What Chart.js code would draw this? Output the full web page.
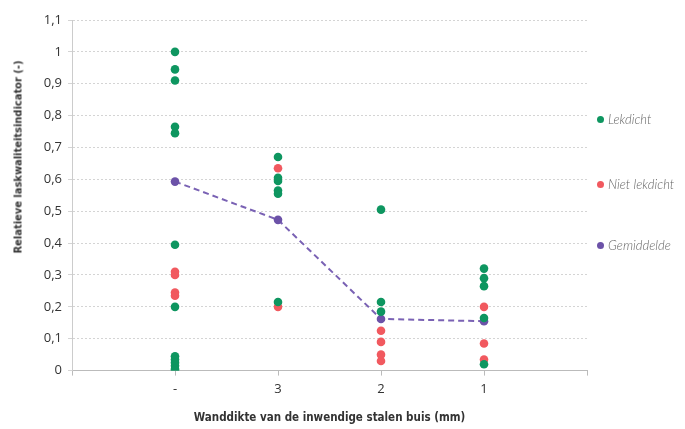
<!DOCTYPE html>
<html>
<head>
<meta charset="utf-8">
<script src="https://cdn.jsdelivr.net/npm/chart.js@4/dist/chart.umd.min.js"></script>
<style>
  body { margin: 0; background: #fff; }
  #wrap { position: relative; width: 685px; height: 429px; }
  .leg { position: absolute; left: 597px; font-family: Lato, "Open Sans", sans-serif; font-style: italic; font-weight: 300; font-size: 13px; color: #666; white-space: nowrap; }
  .leg i { display: inline-block; width: 7px; height: 7px; border-radius: 50%; margin-right: 4px; vertical-align: 1px; }
  #ytitle { position: absolute; left: 18px; top: 157px; transform: translate(-50%, -50%) rotate(-90deg); font-family: "DejaVu Sans Condensed", sans-serif; font-weight: bold; font-size: 11px; color: #333; white-space: nowrap; }
</style>
</head>
<body>
<div id="wrap">
  <canvas id="chart" width="685" height="429"></canvas>
  <div id="ytitle">Relatieve laskwaliteitsindicator (-)</div>
  <div class="leg" style="top:111px"><i style="background:#0e9660"></i>Lekdicht</div>
  <div class="leg" style="top:176px"><i style="background:#f1595f"></i>Niet lekdicht</div>
  <div class="leg" style="top:237px"><i style="background:#6c52a8"></i>Gemiddelde</div>
</div>
<script>
// Categorieën (wanddikte) en gemeten waarden per categorie
const categories = ['-', '3', '2', '1'];
const lekdicht = [
    [1.0, 0.945, 0.91, 0.765, 0.745, 0.395, 0.2, 0.045, 0.035, 0.025, 0.015, 0.005, 0],
    [0.67, 0.605, 0.595, 0.565, 0.555, 0.215],
    [0.505, 0.215, 0.185],
    [0.32, 0.29, 0.265, 0.165, 0.02]
];
const nietLekdicht = [
    [0.31, 0.3, 0.245, 0.235],
    [0.635, 0.2],
    [0.125, 0.09, 0.05, 0.03],
    [0.2, 0.085, 0.035]
];
const gemiddelde = [0.593, 0.473, 0.162, 0.155];
const yTicks = [0, 0.1, 0.2, 0.3, 0.4, 0.5, 0.6, 0.7, 0.8, 0.9, 1, 1.1];

// Punten opbouwen: categorie i staat op x = i + 1
function toPoints(groups) {
    const pts = [];
    groups.forEach((vals, i) => vals.forEach(v => pts.push({ x: i + 1, y: v })));
    return pts;
}

new Chart(document.getElementById('chart'), {
    type: 'scatter',
    data: {
        datasets: [
            {
                label: 'Lekdicht',
                data: toPoints(lekdicht),
                backgroundColor: '#0e9660',
                borderWidth: 0,
                pointRadius: 4.3
            },
            {
                label: 'Niet lekdicht',
                data: toPoints(nietLekdicht),
                backgroundColor: '#f1595f',
                borderWidth: 0,
                pointRadius: 4.3
            },
            {
                label: 'Gemiddelde',
                data: gemiddelde.map((v, i) => ({ x: i + 1, y: v })),
                showLine: true,
                borderColor: '#7a62b4',
                borderWidth: 2,
                borderDash: [6, 4],
                backgroundColor: '#6c52a8',
                pointRadius: 4.3,
                pointBorderWidth: 0
            }
        ]
    },
    options: {
        responsive: false,
        animation: false,
        layout: { padding: { top: 20, right: 98, bottom: 0, left: 0 } },
        plugins: { legend: { display: false }, tooltip: { enabled: false } },
        scales: {
            x: {
                type: 'linear',
                min: 0,
                max: 5,
                afterBuildTicks: axis => { axis.ticks = [0, 1, 2, 3, 4, 5].map(v => ({ value: v })); },
                ticks: {
                    callback: v => categories[v - 1] || '',
                    color: '#333',
                    font: { family: 'Open Sans', size: 13 },
                    padding: 6
                },
                grid: { drawOnChartArea: false, color: '#bbb', tickLength: 5 },
                border: { color: '#bbb' },
                title: {
                    display: true,
                    text: 'Wanddikte van de inwendige stalen buis (mm)',
                    color: '#333',
                    font: { family: 'DejaVu Sans Condensed', size: 11.5, weight: 'bold' },
                    padding: { top: 8 }
                }
            },
            y: {
                min: 0,
                max: 1.1,
                afterBuildTicks: axis => { axis.ticks = yTicks.map(v => ({ value: v })); },
                afterFit: axis => { axis.width = 72; },
                ticks: {
                    callback: v => String(Math.round(v * 10) / 10).replace('.', ','),
                    color: '#333',
                    font: { family: 'Open Sans', size: 13 },
                    padding: 6
                },
                grid: { color: '#d4d4d4', borderDash: [2, 2], tickLength: 4 },
                border: { color: '#ccc', dash: [2, 2] }
            }
        }
    }
});
</script>
</body>
</html>
